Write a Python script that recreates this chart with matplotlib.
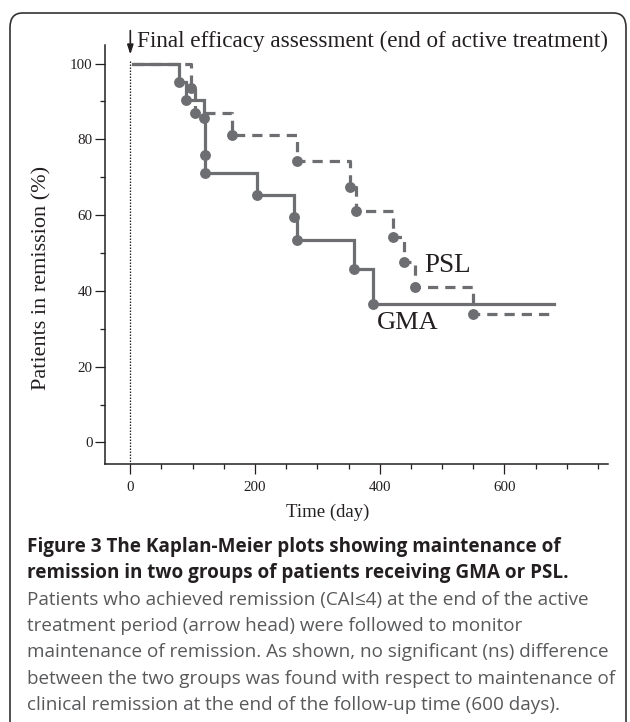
import matplotlib
matplotlib.use('Agg')
import matplotlib.pyplot as plt
from matplotlib.patches import FancyBboxPatch
from matplotlib.ticker import MultipleLocator

# Kaplan-Meier steps (day of event, % still in remission)
gma_days = [78, 90, 118, 119, 120, 203, 263, 267, 358, 389]
gma_pct = [95.2, 90.5, 85.5, 75.8, 71.2, 65.4, 59.6, 53.3, 45.7, 36.5]
gma_end = 679

psl_days = [98, 104, 163, 267, 352, 362, 421, 439, 457, 550]
psl_pct = [93.6, 86.9, 81.2, 74.2, 67.5, 61.0, 54.1, 47.7, 40.9, 33.9]
psl_end = 672

start_day = 5

grey = '#6d6e71'
ink = '#231f20'
serif = ['Liberation Serif', 'DejaVu Serif']

fig = plt.figure(figsize=(6.3, 7.22), dpi=100)

# rounded frame around the figure (bottom edge falls outside the picture)
frame = FancyBboxPatch((10 / 630, -0.05), 616 / 630, 1.05 - 13 / 722,
                       boxstyle='round,pad=0,rounding_size=0.02',
                       transform=fig.transFigure, fill=False,
                       edgecolor='#333333', linewidth=1.2)
fig.patches.append(frame)

ax = fig.add_axes([105 / 630, 1 - 464 / 722, 503 / 630, 419 / 722])
ax.set_xlim(-40.6, 766)
ax.set_ylim(-5.7, 104.9)


def km_xy(days, pct, end):
    xs = [start_day]
    ys = [100]
    for d, p in zip(days, pct):
        xs += [d, d]
        ys += [ys[-1], p]
    xs.append(end)
    ys.append(ys[-1])
    return xs, ys


x, y = km_xy(gma_days, gma_pct, gma_end)
ax.plot(x, y, color=grey, lw=2.3, solid_joinstyle='miter', zorder=3)
x, y = km_xy(psl_days, psl_pct, psl_end)
ax.plot(x, y, color=grey, lw=2.3, ls=(0, (3.2, 2.2)), zorder=3)

ax.plot(gma_days, gma_pct, 'o', color=grey, ms=6.8, zorder=4)
ax.plot(psl_days, psl_pct, 'o', color=grey, ms=6.8, zorder=4)

# day 0 reference line
ax.plot([0, 0], [100.7, -5.7], color=ink, lw=0.9, ls=(0, (1.2, 1.2)), zorder=2)

ax.annotate('', xy=(0, 102.4), xytext=(0, 108.7),
            arrowprops=dict(arrowstyle='-|>,head_length=0.55,head_width=0.18',
                            color=ink, lw=1.2, shrinkA=0, shrinkB=0),
            annotation_clip=False)
ax.text(10, 104.4, 'Final efficacy assessment (end of active treatment)',
        family=serif, fontsize=16.7, color=ink, va='baseline', clip_on=False)

ax.text(508, 46.8, 'PSL', family=serif, fontsize=19.5, color=ink,
        ha='center', va='center')
ax.text(444, 31.5, 'GMA', family=serif, fontsize=19, color=ink,
        ha='center', va='center')

for s in ['top', 'right']:
    ax.spines[s].set_visible(False)
for s in ['left', 'bottom']:
    ax.spines[s].set_color(ink)
    ax.spines[s].set_linewidth(1.1)

ax.xaxis.set_major_locator(MultipleLocator(200))
ax.xaxis.set_minor_locator(MultipleLocator(50))
ax.yaxis.set_major_locator(MultipleLocator(20))
ax.yaxis.set_minor_locator(MultipleLocator(10))
ax.tick_params(which='major', length=7, width=0.9, color=ink, direction='out')
ax.tick_params(which='minor', length=3.5, width=0.9, color=ink, direction='out')
ax.tick_params(axis='y', pad=2)
ax.tick_params(axis='x', pad=5)
for lab in ax.get_xticklabels() + ax.get_yticklabels():
    lab.set_family(serif)
    lab.set_fontsize(10.8)
    lab.set_color(ink)

ax.set_xlabel('Time (day)', family=serif, fontsize=13.5, color=ink)
ax.set_ylabel('Patients in remission (%)', family=serif, fontsize=16, color=ink)
ax.xaxis.set_label_coords((328 - 105) / 503, (464 - 512) / 419)
ax.get_xaxis().label.set_va('center')
ax.yaxis.set_label_coords((42 - 105) / 503, (464 - 278) / 419)
ax.get_yaxis().label.set_va('center')

# caption
cap_bold = ['Figure 3 The Kaplan-Meier plots showing maintenance of',
            'remission in two groups of patients receiving GMA or PSL.']
cap_text = ['Patients who achieved remission (CAI\u22644) at the end of the active',
            'treatment period (arrow head) were followed to monitor',
            'maintenance of remission. As shown, no significant (ns) difference',
            'between the two groups was found with respect to maintenance of',
            'clinical remission at the end of the follow-up time (600 days).']
line_y = [547, 573, 600, 626, 652, 679, 705]
sans = ['Open Sans', 'DejaVu Sans']
for i, t in enumerate(cap_bold + cap_text):
    bold = i < len(cap_bold)
    fig.text(27 / 630, 1 - line_y[i] / 722, t, family=sans,
             fontsize=13.6, fontweight='bold' if bold else 'normal',
             color=ink if bold else '#58595b', va='center', ha='left')

fig.savefig('out.png', dpi=100)
